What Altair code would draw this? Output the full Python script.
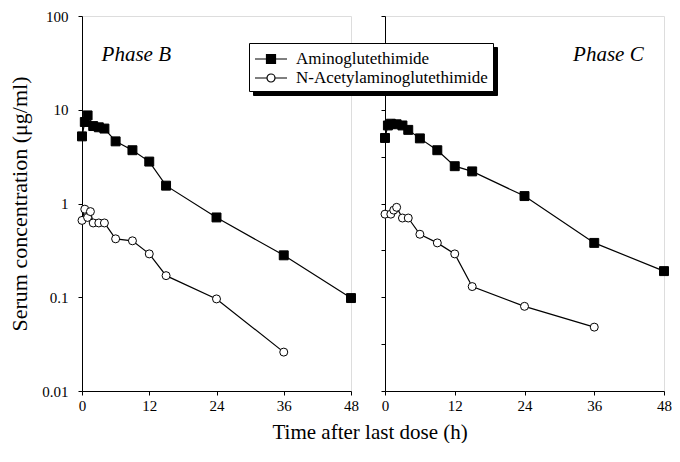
import altair as alt
import pandas as pd

AMINO = "Aminoglutethimide"
ACET = "N-Acetylaminoglutethimide"
SERIES = [AMINO, ACET]
ZW = "\u200b"

# Phase B
b_amino_t = [0, 0.5, 1, 2, 3, 4, 6, 9, 12, 15, 24, 36, 48]
b_amino_v = [5.2, 7.4, 8.7, 6.7, 6.5, 6.3, 4.6, 3.7, 2.8, 1.55, 0.71, 0.28, 0.098]
b_acet_t = [0, 0.5, 1, 1.5, 2, 3, 4, 6, 9, 12, 15, 24, 36]
b_acet_v = [0.66, 0.87, 0.71, 0.82, 0.62, 0.62, 0.62, 0.42, 0.40, 0.29, 0.17, 0.096, 0.026]

# Phase C
c_amino_t = [0, 0.5, 1, 2, 3, 4, 6, 9, 12, 15, 24, 36, 48]
c_amino_v = [5.0, 6.8, 7.1, 7.0, 6.8, 6.1, 4.95, 3.7, 2.5, 2.2, 1.2, 0.38, 0.19]
c_acet_t = [0, 1, 1.5, 2, 3, 4, 6, 9, 12, 15, 24, 36]
c_acet_v = [0.77, 0.77, 0.85, 0.91, 0.70, 0.70, 0.47, 0.38, 0.29, 0.13, 0.080, 0.048]

y_ticks = [0.01, 0.1, 1, 10, 100]
y_ticks_right = [0.01, 0.0316, 0.1, 0.316, 1, 3.16, 10, 31.6, 100]
x_ticks = [0, 6, 12, 18, 24, 30, 36, 42, 48]

FONT = "Liberation Serif"

# legend symbols: short line with a marker in the middle
SYM_SQUARE = "M-1,0H0.15M1.05,0H2.2M0.15,-0.45H1.05V0.45H0.15Z"
SYM_CIRCLE = "M-1,0H0.2M1,0H2.2M1,0A0.4,0.4,0,1,1,0.2,0A0.4,0.4,0,1,1,1,0Z"


def make_df(at, av, ct, cv):
    rows = [{"time": t, "conc": v, "series": AMINO} for t, v in zip(at, av)]
    rows += [{"time": t, "conc": v, "series": ACET} for t, v in zip(ct, cv)]
    df = pd.DataFrame(rows)
    df["series2"] = df["series"] + ZW
    return df


df_b = make_df(b_amino_t, b_amino_v, b_acet_t, b_acet_v)
df_c = make_df(c_amino_t, c_amino_v, c_acet_t, c_acet_v)

LX, LY = 167, 27

legend_main = alt.Legend(
    title=None, orient="none", legendX=LX, legendY=LY, zindex=2,
    strokeColor="black", fillColor="white", padding=5,
    labelFont=FONT, labelFontSize=17, labelColor="black", labelLimit=400,
    labelOffset=20, symbolSize=400, symbolStrokeColor="black",
    symbolStrokeWidth=1.2, rowPadding=0,
)
legend_shadow = alt.Legend(
    title=None, orient="none", legendX=LX + 4, legendY=LY + 4, zindex=1,
    strokeColor="black", fillColor="black", padding=5,
    labelFont=FONT, labelFontSize=17, labelColor="black", labelLimit=400,
    labelOffset=20, symbolSize=400, symbolType=SYM_SQUARE,
    symbolStrokeColor="black", symbolFillColor="black",
    symbolStrokeWidth=1.2, rowPadding=0,
)


def panel(df, label_df, label_align, width, left):
    x_axis = alt.Axis(
        values=x_ticks,
        labelExpr="datum.value % 12 == 0 ? datum.label : ''",
        grid=False, tickSize=4, tickColor="black", domainColor="black",
        labelFont=FONT, labelFontSize=15, labelColor="black", labelPadding=3,
        labelFlush=False, title=None,
    )
    if left:
        y_axis = alt.Axis(
            values=y_ticks, format="~g", grid=False, tickSize=4,
            tickColor="black", domainColor="black",
            labelFont=FONT, labelFontSize=15, labelColor="black",
            labelPadding=10,
            title="Serum concentration (μg/ml)", titleFont=FONT,
            titleFontSize=22, titleFontWeight="normal", titleColor="black",
            titlePadding=10,
        )
    else:
        y_axis = alt.Axis(
            values=y_ticks_right, labels=False, grid=False, tickSize=4,
            tickColor="black", domainColor="black", title=None,
        )
    x = alt.X("time:Q", scale=alt.Scale(domain=[0, 48], nice=False), axis=x_axis)
    y = alt.Y("conc:Q", scale=alt.Scale(type="log", domain=[0.01, 100], nice=False),
              axis=y_axis)
    base = alt.Chart(df)
    lines = base.mark_line(color="black", strokeWidth=1.2).encode(
        x=x, y=y, detail="series:N"
    )
    squares = base.transform_filter(alt.datum.series == AMINO).mark_point(
        shape="square", filled=True, fill="black", stroke="black",
        strokeWidth=1, opacity=1, size=80,
    ).encode(x=x, y=y)
    circles = base.transform_filter(alt.datum.series == ACET).mark_point(
        shape="circle", filled=True, fill="white", stroke="black",
        strokeWidth=1, opacity=1, size=64,
    ).encode(x=x, y=y)
    txt = alt.Chart(label_df).mark_text(
        font=FONT, fontStyle="italic", fontSize=21, align=label_align,
        baseline="middle", color="black",
    ).encode(x="time:Q", y="conc:Q", text="label:N")
    layers = [lines, squares, circles, txt]
    if left:
        leg = base.transform_filter("false").mark_point(
            filled=False, strokeWidth=1.2, size=400, opacity=1,
        ).encode(
            x=x, y=y,
            shape=alt.Shape("series:N", scale=alt.Scale(
                domain=SERIES, range=[SYM_SQUARE, SYM_CIRCLE]), legend=legend_main),
            fill=alt.Fill("series:N", scale=alt.Scale(
                domain=SERIES, range=["black", "white"]), legend=legend_main),
            stroke=alt.Stroke("series:N", scale=alt.Scale(
                domain=SERIES, range=["black", "black"]), legend=legend_main),
            opacity=alt.Opacity("series2:N", scale=alt.Scale(
                domain=[s + ZW for s in SERIES], range=[1, 1]),
                legend=legend_shadow),
        )
        layers.append(leg)
    return alt.layer(*layers).properties(width=width, height=375)


lab_b = pd.DataFrame({"time": [3.5], "conc": [38], "label": ["Phase B"]})
lab_c = pd.DataFrame({"time": [44.5], "conc": [38], "label": ["Phase C"]})

chart = alt.hconcat(
    panel(df_b, lab_b, "left", 269, True),
    panel(df_c, lab_c, "right", 279, False),
    spacing=19,
).properties(
    padding={"left": 0, "top": 0, "right": 0, "bottom": 0},
    title=alt.TitleParams(
        "Time after last dose (h)", orient="bottom", anchor="middle",
        font=FONT, fontSize=21, fontWeight="normal", color="black",
        dx=30, offset=8,
    ),
).configure_view(
    stroke="black", strokeWidth=1
).configure(background="white")

chart.save("out.html", embed_options={"renderer": "svg", "actions": False})
